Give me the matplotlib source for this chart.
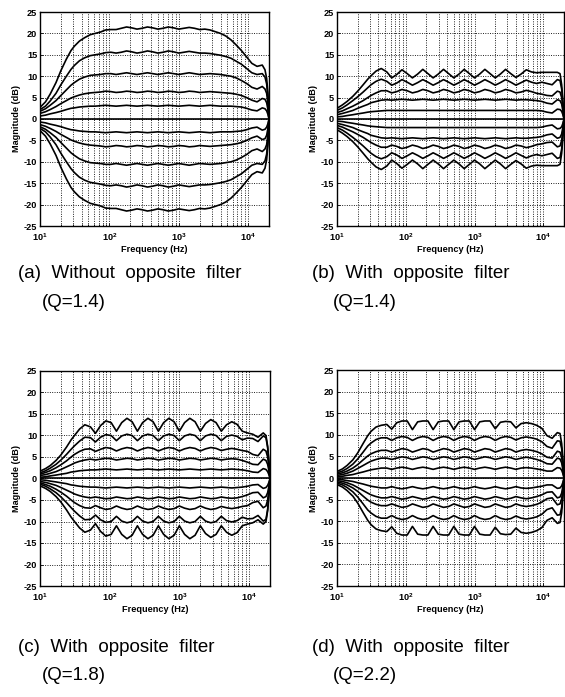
import matplotlib
matplotlib.use("Agg")
import matplotlib.pyplot as plt
from matplotlib.ticker import FixedLocator, LogLocator, NullFormatter

plt.rcParams['axes.unicode_minus'] = False
plt.rcParams['mathtext.fontset'] = 'custom'
plt.rcParams['mathtext.rm'] = 'Liberation Sans:bold'
plt.rcParams['mathtext.bf'] = 'Liberation Sans:bold'
plt.rcParams['mathtext.it'] = 'Liberation Sans:bold'

# ---------------- data ----------------
freq_hz = [10, 12, 14, 17, 20, 24, 28,
           31.25, 37, 44, 53,
           62.5, 74, 88, 105,
           125, 149, 177, 210,
           250, 297, 354, 420,
           500, 595, 707, 841,
           1000, 1189, 1414, 1682,
           2000, 2378, 2828, 3364,
           4000, 4757, 5657, 6727,
           8000, 9514, 11314, 13454,
           16000, 17500, 18500, 19300, 20000]

# (a) without opposite filter, Q=1.4 (boost curves; cut curves are their mirror)
a_boost_1 = [2.7, 4.0, 5.8, 8.5, 11.3, 14.0, 16.0,
             17.0, 18.2, 19.0, 19.7,
             20.0, 20.3, 20.8, 20.9,
             20.9, 21.2, 21.5, 21.3,
             21.0, 21.2, 21.5, 21.3,
             21.0, 21.2, 21.5, 21.3,
             21.0, 21.2, 21.4, 21.2,
             20.9, 21.0, 20.8, 20.4,
             20.0, 19.4, 18.5, 17.3,
             16.0, 14.5, 13.0, 12.3,
             12.6, 11.5, 9.5, 6.0, 0.0]
a_boost_2 = [2.2, 3.0, 4.2, 6.0, 8.0, 10.0, 11.6,
             12.5, 13.6, 14.3, 14.8,
             15.0, 15.2, 15.5, 15.6,
             15.4, 15.6, 15.9, 15.7,
             15.4, 15.6, 15.9, 15.7,
             15.4, 15.6, 15.9, 15.7,
             15.4, 15.6, 15.8, 15.6,
             15.4, 15.4, 15.3, 15.1,
             14.9, 14.6, 14.2, 13.5,
             12.8, 11.8, 10.8, 10.4,
             10.6, 9.8, 8.2, 5.0, 0.0]
a_boost_3 = [1.8, 2.4, 3.2, 4.3, 5.5, 6.8, 7.9,
             8.5, 9.3, 9.8, 10.2,
             10.3, 10.4, 10.6, 10.6,
             10.4, 10.6, 10.8, 10.6,
             10.4, 10.6, 10.8, 10.6,
             10.4, 10.6, 10.8, 10.6,
             10.4, 10.6, 10.8, 10.6,
             10.4, 10.5, 10.6, 10.5,
             10.4, 10.2, 10.0, 9.6,
             9.0, 8.3, 7.4, 7.0,
             7.6, 7.0, 6.0, 3.5, 0.0]
a_boost_4 = [1.3, 1.7, 2.2, 2.9, 3.6, 4.3, 4.9,
             5.2, 5.6, 5.9, 6.1,
             6.2, 6.3, 6.5, 6.4,
             6.2, 6.3, 6.5, 6.4,
             6.2, 6.3, 6.5, 6.4,
             6.2, 6.3, 6.5, 6.4,
             6.2, 6.3, 6.5, 6.4,
             6.2, 6.3, 6.4, 6.3,
             6.2, 6.1, 6.0, 5.8,
             5.5, 5.0, 4.4, 4.0,
             4.8, 4.6, 3.8, 2.2, 0.0]
a_boost_5 = [0.7, 0.9, 1.2, 1.5, 1.8, 2.2, 2.5,
             2.6, 2.8, 2.9, 3.0,
             3.0, 3.1, 3.2, 3.1,
             3.0, 3.1, 3.2, 3.1,
             3.0, 3.1, 3.2, 3.1,
             3.0, 3.1, 3.2, 3.1,
             3.0, 3.1, 3.2, 3.1,
             3.0, 3.1, 3.2, 3.1,
             3.0, 3.0, 3.0, 2.9,
             2.8, 2.5, 2.1, 1.9,
             2.6, 2.4, 1.9, 1.1, 0.0]

# (b) with opposite filter, Q=1.4
b_boost_1 = [2.5, 3.3, 4.1, 5.3, 6.5, 8.0, 9.3,
             10.1, 11.2, 11.8, 11.0,
             9.6, 10.4, 11.5, 10.6,
             9.6, 10.5, 11.6, 10.6,
             9.6, 10.5, 11.6, 10.6,
             9.6, 10.5, 11.6, 10.6,
             9.6, 10.5, 11.6, 10.6,
             9.6, 10.5, 11.6, 10.6,
             9.7, 10.5, 11.5, 11.0,
             10.8, 10.9, 10.9, 10.9,
             10.9, 10.6, 8.0, 4.0, 0.0]
b_boost_2 = [2.0, 2.6, 3.3, 4.3, 5.2, 6.3, 7.3,
             8.0, 8.8, 9.3, 8.8,
             7.9, 8.4, 9.2, 8.6,
             7.9, 8.5, 9.2, 8.6,
             7.9, 8.5, 9.2, 8.6,
             7.9, 8.5, 9.2, 8.6,
             7.9, 8.5, 9.2, 8.6,
             7.9, 8.5, 9.2, 8.6,
             7.9, 8.5, 9.1, 8.6,
             8.3, 8.6, 8.3, 8.0,
             9.2, 9.0, 7.0, 3.5, 0.0]
b_boost_3 = [1.5, 1.9, 2.4, 3.0, 3.6, 4.3, 5.0,
             5.5, 6.1, 6.6, 6.6,
             6.1, 6.4, 6.9, 6.6,
             6.1, 6.4, 6.9, 6.6,
             6.1, 6.4, 6.9, 6.6,
             6.1, 6.4, 6.9, 6.6,
             6.1, 6.4, 6.9, 6.6,
             6.1, 6.4, 6.9, 6.6,
             6.1, 6.3, 6.7, 6.4,
             6.0, 5.8, 5.5, 5.4,
             6.5, 6.3, 5.0, 2.5, 0.0]
b_boost_4 = [1.0, 1.3, 1.6, 2.0, 2.5, 3.0, 3.4,
             3.8, 4.1, 4.4, 4.5,
             4.4, 4.5, 4.6, 4.5,
             4.4, 4.5, 4.6, 4.5,
             4.4, 4.5, 4.6, 4.5,
             4.4, 4.5, 4.6, 4.5,
             4.4, 4.5, 4.6, 4.5,
             4.4, 4.5, 4.6, 4.5,
             4.4, 4.5, 4.5, 4.4,
             4.3, 4.1, 3.7, 3.5,
             4.5, 4.3, 3.5, 1.8, 0.0]
b_boost_5 = [0.5, 0.6, 0.8, 1.0, 1.2, 1.4, 1.6,
             1.7, 1.8, 1.9, 2.0,
             2.0, 2.0, 2.0, 2.0,
             2.0, 2.0, 2.0, 2.0,
             2.0, 2.0, 2.0, 2.0,
             2.0, 2.0, 2.0, 2.0,
             2.0, 2.0, 2.0, 2.0,
             2.0, 2.0, 2.0, 2.0,
             2.0, 2.0, 2.0, 2.0,
             2.0, 1.9, 1.6, 1.4,
             2.3, 2.2, 1.8, 1.0, 0.0]

# (c) with opposite filter, Q=1.8
c_boost_1 = [1.7, 2.3, 3.0, 4.2, 5.5, 7.3, 9.0,
             10.0, 11.5, 12.5, 12.0,
             10.5, 12.3, 13.4, 13.0,
             11.0, 13.0, 14.0, 13.2,
             11.0, 13.0, 14.0, 13.2,
             11.0, 13.0, 14.0, 13.2,
             11.0, 13.0, 14.0, 13.2,
             11.0, 12.8, 13.7, 13.0,
             11.0, 12.5, 13.2, 12.6,
             11.0, 10.6, 10.3, 9.6,
             10.6, 10.0, 7.5, 4.0, 0.0]
c_boost_2 = [1.3, 1.8, 2.4, 3.3, 4.3, 5.6, 6.8,
             7.6, 8.7, 9.6, 9.5,
             8.5, 9.6, 10.2, 10.0,
             8.8, 9.9, 10.3, 10.0,
             8.8, 9.9, 10.3, 10.0,
             8.8, 9.9, 10.3, 10.0,
             8.8, 9.9, 10.3, 10.0,
             8.8, 9.9, 10.3, 10.0,
             8.8, 9.8, 10.1, 9.8,
             9.0, 9.4, 9.3, 8.6,
             9.9, 9.5, 7.2, 3.5, 0.0]
c_boost_3 = [1.0, 1.4, 1.8, 2.5, 3.2, 4.1, 5.0,
             5.6, 6.3, 6.8, 6.9,
             6.3, 6.8, 7.2, 7.0,
             6.4, 6.9, 7.2, 7.0,
             6.4, 6.9, 7.2, 7.0,
             6.4, 6.9, 7.2, 7.0,
             6.4, 6.9, 7.2, 7.0,
             6.4, 6.9, 7.2, 7.0,
             6.5, 6.8, 7.0, 6.8,
             6.5, 6.3, 5.6, 5.3,
             6.8, 6.4, 5.0, 2.6, 0.0]
c_boost_4 = [0.7, 0.9, 1.2, 1.6, 2.1, 2.7, 3.2,
             3.6, 4.0, 4.3, 4.5,
             4.3, 4.5, 4.7, 4.6,
             4.3, 4.5, 4.7, 4.6,
             4.3, 4.5, 4.7, 4.6,
             4.3, 4.5, 4.7, 4.6,
             4.3, 4.5, 4.7, 4.6,
             4.3, 4.5, 4.7, 4.6,
             4.3, 4.5, 4.6, 4.5,
             4.2, 3.8, 3.3, 3.2,
             4.5, 4.2, 3.3, 1.8, 0.0]
c_boost_5 = [0.3, 0.4, 0.6, 0.8, 1.0, 1.2, 1.5,
             1.6, 1.8, 1.9, 2.0,
             2.0, 2.1, 2.2, 2.1,
             2.0, 2.1, 2.2, 2.1,
             2.0, 2.1, 2.2, 2.1,
             2.0, 2.1, 2.2, 2.1,
             2.0, 2.1, 2.2, 2.1,
             2.0, 2.1, 2.2, 2.1,
             2.0, 2.1, 2.2, 2.1,
             2.0, 1.8, 1.5, 1.4,
             2.3, 2.1, 1.6, 0.9, 0.0]

# (d) with opposite filter, Q=2.2
d_boost_1 = [1.5, 2.1, 2.9, 4.2, 5.8, 8.0, 9.8,
             10.8, 11.8, 12.2, 12.4,
             11.3, 12.8, 13.2, 13.2,
             11.2, 13.0, 13.2, 13.2,
             11.2, 13.0, 13.2, 13.2,
             11.2, 13.0, 13.2, 13.2,
             11.2, 13.0, 13.2, 13.2,
             11.4, 12.9, 13.1, 13.0,
             11.6, 12.6, 12.8, 12.6,
             12.2, 11.5, 9.8, 9.2,
             10.5, 10.3, 8.0, 4.2, 0.0]
d_boost_2 = [1.2, 1.6, 2.2, 3.2, 4.4, 6.0, 7.4,
             8.1, 8.9, 9.3, 9.3,
             8.7, 9.3, 9.6, 9.4,
             8.7, 9.3, 9.6, 9.4,
             8.7, 9.3, 9.6, 9.4,
             8.7, 9.3, 9.6, 9.4,
             8.7, 9.3, 9.6, 9.4,
             8.7, 9.3, 9.6, 9.4,
             8.8, 9.3, 9.5, 9.3,
             9.0, 8.4, 7.3, 6.9,
             8.6, 8.5, 6.8, 3.6, 0.0]
d_boost_3 = [0.9, 1.2, 1.6, 2.3, 3.1, 4.2, 5.1,
             5.6, 6.1, 6.4, 6.4,
             6.0, 6.4, 6.8, 6.6,
             6.0, 6.4, 6.8, 6.6,
             6.0, 6.4, 6.8, 6.6,
             6.0, 6.4, 6.8, 6.6,
             6.0, 6.4, 6.8, 6.6,
             6.0, 6.4, 6.8, 6.6,
             6.0, 6.4, 6.6, 6.4,
             6.1, 5.6, 4.8, 4.6,
             6.2, 6.0, 4.8, 2.5, 0.0]
d_boost_4 = [0.6, 0.8, 1.1, 1.6, 2.2, 2.9, 3.5,
             3.9, 4.3, 4.6, 4.6,
             4.3, 4.6, 4.9, 4.7,
             4.3, 4.6, 4.9, 4.7,
             4.3, 4.6, 4.9, 4.7,
             4.3, 4.6, 4.9, 4.7,
             4.3, 4.6, 4.9, 4.7,
             4.3, 4.6, 4.9, 4.7,
             4.3, 4.6, 4.8, 4.6,
             4.3, 3.9, 3.3, 3.2,
             4.6, 4.4, 3.5, 1.8, 0.0]
d_boost_5 = [0.3, 0.4, 0.6, 0.8, 1.1, 1.4, 1.7,
             1.9, 2.1, 2.3, 2.3,
             2.0, 2.3, 2.5, 2.3,
             2.0, 2.3, 2.5, 2.3,
             2.0, 2.3, 2.5, 2.3,
             2.0, 2.3, 2.5, 2.3,
             2.0, 2.3, 2.5, 2.3,
             2.0, 2.3, 2.5, 2.3,
             2.0, 2.3, 2.4, 2.3,
             2.1, 1.9, 1.6, 1.6,
             2.4, 2.3, 1.8, 1.0, 0.0]

flat_db = [0.0] * len(freq_hz)

captions = [("(a)  Without  opposite  filter", "(Q=1.4)"),
            ("(b)  With  opposite  filter", "(Q=1.4)"),
            ("(c)  With  opposite  filter", "(Q=1.8)"),
            ("(d)  With  opposite  filter", "(Q=2.2)")]
panel_curves = [[a_boost_1, a_boost_2, a_boost_3, a_boost_4, a_boost_5],
                [b_boost_1, b_boost_2, b_boost_3, b_boost_4, b_boost_5],
                [c_boost_1, c_boost_2, c_boost_3, c_boost_4, c_boost_5],
                [d_boost_1, d_boost_2, d_boost_3, d_boost_4, d_boost_5]]
y_ticks = [-25, -20, -15, -10, -5, 0, 5, 10, 15, 20, 25]
x_ticks = [10, 100, 1000, 10000]
x_tick_labels = [r'$10^{1}$', r'$10^{2}$', r'$10^{3}$', r'$10^{4}$']

# ---------------- layout ----------------
W, H = 565, 697
fig = plt.figure(figsize=(W / 100, H / 100), dpi=100)

def rect(l, r, t, b):
    return [l / W, 1 - b / H, (r - l) / W, (b - t) / H]

axes_px = [(40, 269, 12, 226), (337, 564, 12, 226),
           (40, 270, 371, 586), (337, 564, 370, 586)]
cap_pos = [(18, 274, 42, 302), (312, 274, 333, 302),
           (18, 647, 42, 675), (312, 647, 333, 675)]

tick_font = dict(family='Liberation Sans', weight='bold', size=6.6)
cap_font = dict(family='Liberation Sans', size=13.5)

for i in range(4):
    ax = fig.add_axes(rect(*axes_px[i]))
    for y in panel_curves[i]:
        ax.plot(freq_hz, y, color='black', lw=1.2, zorder=3)
        ax.plot(freq_hz, [-v for v in y], color='black', lw=1.2, zorder=3)
    ax.plot(freq_hz, flat_db, color='black', lw=1.2, zorder=3)

    ax.set_xscale('log')
    ax.set_xlim(10, 20000)
    ax.set_ylim(-25, 25)
    ax.xaxis.set_major_locator(FixedLocator(x_ticks))
    ax.set_xticklabels(x_tick_labels, fontdict=tick_font)
    ax.xaxis.set_minor_locator(LogLocator(base=10, subs=range(2, 10), numticks=20))
    ax.xaxis.set_minor_formatter(NullFormatter())
    ax.set_yticks(y_ticks)
    ax.set_yticklabels([str(v) for v in y_ticks], fontdict=tick_font)
    ax.tick_params(which='both', direction='in', length=2.5, width=0.6)
    ax.tick_params(axis='y', pad=2)
    ax.tick_params(axis='x', pad=4)
    ax.tick_params(which='minor', length=1.5)
    ax.grid(True, which='major', axis='both', color='black', lw=0.65,
            linestyle=(0, (1, 1.6)))
    ax.grid(True, which='minor', axis='x', color='black', lw=0.65,
            linestyle=(0, (1, 1.6)))
    for s in ax.spines.values():
        s.set_linewidth(1.0)
    ax.set_xlabel('Frequency (Hz)', fontdict=tick_font, labelpad=1)
    ax.set_ylabel('Magnitude (dB)', fontdict=tick_font, labelpad=2)

    x1, y1, x2, y2 = cap_pos[i]
    fig.text(x1 / W, 1 - y1 / H, captions[i][0], ha='left', va='center', **cap_font)
    fig.text(x2 / W, 1 - y2 / H, captions[i][1], ha='left', va='center', **cap_font)

fig.savefig('out.png', dpi=100)
